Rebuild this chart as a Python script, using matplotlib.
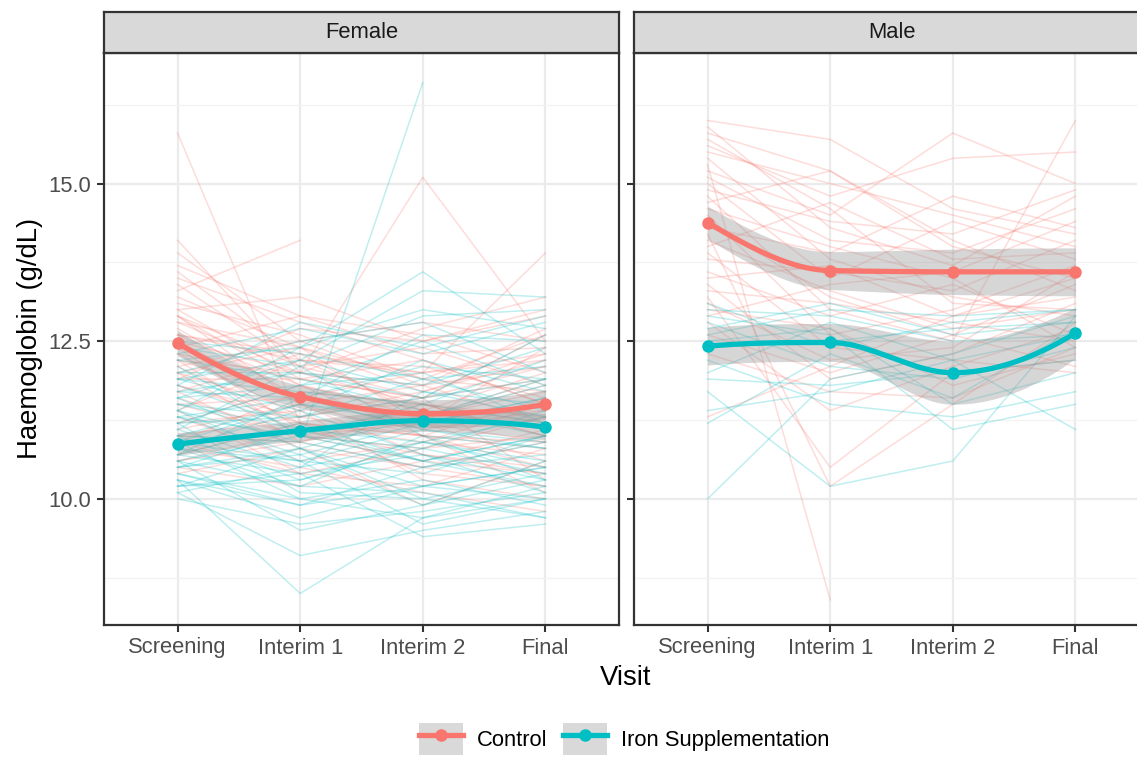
import numpy as np
import matplotlib
matplotlib.use("Agg")
import matplotlib.pyplot as plt
from matplotlib.lines import Line2D
from matplotlib.patches import Patch
from matplotlib.legend_handler import HandlerTuple

plt.rcParams['font.family'] = ['Liberation Sans', 'DejaVu Sans']

nan = np.nan
visits = ["Screening", "Interim 1", "Interim 2", "Final"]
panels = ["Female", "Male"]
groups = ["Control", "Iron Supplementation"]
colors = {"Control": "#F8766D", "Iron Supplementation": "#00BFC4"}

# individual subject trajectories [Screening, Interim 1, Interim 2, Final]
female_control = [
    [15.8, 11.2, 11.0, 10.8], [14.1, 12.0, 11.5, 11.2], [13.3, 14.1, nan, nan],
    [13.9, 12.5, 11.8, 12.1], [13.5, 12.8, 12.2, 11.5], [13.0, 13.2, 12.5, 13.0],
    [12.8, 12.0, 15.1, 12.5], [12.6, 12.3, 12.0, 13.9], [12.9, 11.8, 11.4, 12.0],
    [12.5, 11.5, 11.0, 10.5], [12.3, 11.9, 11.6, 11.9], [12.2, 11.0, 10.8, 11.3],
    [12.0, 12.4, 11.9, 12.6], [11.8, 11.3, 11.7, 12.2], [11.7, 10.8, 10.5, 10.2],
    [11.5, 11.6, 11.2, 10.9], [11.4, 12.2, 12.1, 11.6], [11.3, 10.6, 10.9, 11.5],
    [11.2, 11.4, 10.3, 10.0], [11.0, 10.9, 11.3, 11.8], [10.9, 11.7, 11.5, 11.0],
    [10.8, 10.5, 10.1, 9.8], [10.6, 11.1, 10.7, 10.4], [10.5, 10.2, 10.6, 11.1],
    [10.4, 10.8, 9.9, 10.6], [12.4, 12.9, 12.3, 12.4], [12.7, 11.6, 11.1, 11.4],
    [13.1, 12.6, 11.9, 11.7], [11.9, 12.7, 12.5, 12.9], [12.1, 11.2, 10.9, 10.7],
    [11.6, 11.0, 11.2, 12.4], [13.6, 12.2, 12.0, 12.2], [12.9, 12.1, 11.6, 10.3],
    [11.1, 11.5, 11.8, 11.2], [10.7, 11.2, 11.0, 10.1], [12.2, 12.0, 12.7, 13.2],
    [11.4, 10.4, 10.2, 10.8], [12.6, 11.8, 11.3, 11.9], [12.0, 11.4, 11.5, 11.0],
    [13.2, 12.4, 11.7, 12.3], [12.3, 11.3, 11.0, 11.6], [12.8, 12.4, 11.2, 10.6],
    [11.9, 11.9, 12.2, 11.5], [12.5, 12.0, 11.8, 12.7], [11.5, 11.0, 10.6, 10.4],
    [13.4, 12.1, 12.4, 11.8], [12.0, 10.9, 11.5, 11.3], [11.2, 11.8, 11.0, 10.9],
    [12.6, 12.2, 11.4, 11.1], [10.9, 10.4, 10.8, 11.0], [13.7, 12.9, 12.6, 12.0],
    [12.2, 11.6, 12.0, 12.3], [11.7, 12.3, 11.3, 11.7], [12.9, 11.5, 10.7, 10.5],
    [11.0, 11.3, 11.6, 12.1], [12.4, 11.1, 11.3, 11.4], [13.0, 11.9, 11.6, 12.6],
    [11.8, 11.2, 10.4, 10.2], [12.1, 12.5, 12.8, 12.5], [10.6, 10.9, 10.5, 10.9],
]
female_iron = [
    [10.0, 9.6, 9.8, 10.1], [10.3, 8.5, 9.7, 10.0], [10.1, 9.1, 9.5, 9.8],
    [10.2, 10.4, 9.4, 9.6], [10.4, 9.9, 10.2, 10.5], [10.5, 10.8, 10.0, 9.7],
    [10.6, 10.2, 11.0, 10.8], [10.7, 11.2, 10.6, 10.2], [10.8, 10.6, 10.4, 11.0],
    [10.9, 11.5, 11.3, 11.8], [11.0, 10.9, 16.6, nan], [11.1, 10.5, 11.7, 11.5],
    [11.2, 11.8, 12.0, 11.2], [11.3, 11.0, 10.8, 10.4], [11.4, 12.4, 13.6, 12.3],
    [11.5, 11.3, 11.6, 12.6], [11.6, 12.2, 13.3, 13.2], [11.7, 11.6, 11.1, 10.9],
    [11.8, 12.8, 12.4, 12.9], [11.9, 11.4, 12.2, 11.7], [12.0, 12.5, 12.8, 12.0],
    [12.2, 11.9, 11.4, 11.1], [12.4, 12.1, 12.9, 13.0], [12.5, 12.3, 11.9, 11.4],
    [10.3, 9.9, 10.5, 10.7], [10.6, 9.5, 9.9, 10.3], [10.9, 10.0, 10.3, 9.9],
    [11.0, 10.3, 10.9, 11.3], [11.3, 10.7, 9.9, 10.6], [11.5, 11.1, 11.4, 11.0],
    [11.7, 12.0, 11.8, 12.4], [10.5, 10.7, 11.2, 11.6], [10.8, 11.4, 10.7, 10.1],
    [11.2, 10.1, 10.0, 10.4], [11.9, 11.7, 11.5, 12.2], [12.1, 11.0, 10.6, 11.0],
    [10.2, 10.3, 10.8, 11.4], [10.7, 11.6, 12.1, 11.9], [11.4, 10.6, 9.6, 10.0],
    [12.3, 12.7, 12.3, 12.8], [10.1, 10.5, 10.9, 10.6], [10.4, 10.0, 9.7, 10.2],
    [10.6, 11.0, 11.5, 11.2], [10.8, 10.2, 10.1, 9.7], [11.0, 11.5, 11.2, 11.6],
    [11.2, 11.3, 11.9, 12.1], [11.4, 10.9, 10.5, 10.9], [11.6, 11.8, 12.5, 11.8],
    [11.8, 11.1, 10.9, 10.5], [12.0, 12.0, 11.6, 11.9], [10.3, 9.7, 10.2, 10.5],
    [10.5, 11.1, 10.6, 11.0], [10.9, 10.6, 11.1, 10.8], [11.1, 12.1, 11.0, 10.3],
    [11.3, 11.6, 12.6, 12.5], [11.6, 10.8, 10.2, 10.0], [11.9, 12.2, 11.7, 11.3],
    [12.2, 12.4, 13.0, 12.7], [10.2, 10.8, 11.3, 11.9], [10.7, 10.4, 10.7, 10.3],
]
male_control = [
    [16.0, 15.7, 14.6, 14.2], [15.8, 15.2, 14.0, 13.5], [15.9, 14.3, 13.7, 14.8],
    [15.6, 14.8, 15.4, 15.5], [15.5, 15.0, 14.5, 14.0], [15.4, 13.8, 13.2, 12.9],
    [15.3, 8.4, nan, nan], [15.2, 14.5, 15.8, 15.0], [15.1, 14.1, 13.9, 14.6],
    [15.0, 13.5, 14.4, 13.8], [14.8, 13.0, 12.5, 16.0], [14.7, 15.2, 14.1, 13.3],
    [14.6, 14.0, 13.5, 12.4], [14.5, 12.6, 13.0, 13.7], [14.3, 13.9, 14.8, 14.3],
    [14.2, 10.2, 11.5, 12.8], [14.1, 13.3, 12.7, 13.0], [14.0, 14.7, 13.8, 13.9],
    [13.9, 12.4, 12.2, 12.0], [13.8, 13.6, 13.3, 14.1], [13.6, 12.9, 13.4, 12.6],
    [13.5, 13.7, 12.9, 13.2], [13.4, 11.9, 12.3, 13.1], [13.3, 13.1, 12.8, 12.5],
    [13.2, 10.5, 12.0, 12.2], [13.1, 12.2, 12.4, 13.6], [13.0, 12.7, 11.8, 12.3],
    [12.9, 13.4, 13.6, 14.4], [12.8, 11.4, 12.1, 12.7], [12.6, 12.0, 12.6, 13.4],
    [14.9, 14.4, 14.2, 14.9], [15.7, 14.6, 13.1, 13.0], [14.4, 13.2, 12.6, 12.1],
    [11.3, 12.1, 12.9, 13.5], [12.3, 11.7, 11.6, 12.4],
]
male_iron = [
    [10.0, 11.9, 12.3, 12.9], [11.2, 12.3, 11.6, 12.7], [11.7, 10.2, 10.6, 12.9],
    [12.0, 12.8, 12.2, 11.1], [12.2, 11.5, 11.3, 11.7], [12.4, 12.5, 12.7, 12.8],
    [12.6, 13.0, 12.9, 13.0], [12.8, 12.1, 11.9, 12.4], [12.9, 12.6, 11.1, 11.5],
    [13.0, 12.9, 12.5, 12.6], [11.9, 11.8, 12.0, 12.2], [12.5, 12.7, 11.5, 12.0],
    [13.1, 12.4, 12.8, 13.0], [11.4, 11.7, 12.2, 12.6], [12.7, 13.1, 12.6, 12.8],
]

# group means at each visit and half-width of the confidence band
female_control_mean = [12.47, 11.62, 11.35, 11.50]
female_iron_mean = [10.87, 11.08, 11.24, 11.14]
male_control_mean = [14.38, 13.62, 13.60, 13.60]
male_iron_mean = [12.42, 12.48, 12.00, 12.63]
female_control_se = [0.20, 0.18, 0.22, 0.23]
female_iron_se = [0.18, 0.16, 0.17, 0.21]
male_control_se = [0.26, 0.30, 0.36, 0.38]
male_iron_se = [0.30, 0.30, 0.50, 0.40]

data = {
    "Female": {"Control": (female_control, female_control_mean, female_control_se),
               "Iron Supplementation": (female_iron, female_iron_mean, female_iron_se)},
    "Male": {"Control": (male_control, male_control_mean, male_control_se),
             "Iron Supplementation": (male_iron, male_iron_mean, male_iron_se)},
}


def pchip(xk, yk, xq):
    # shape-preserving cubic through the visit summaries (smoother stand-in)
    xk = np.asarray(xk, float)
    yk = np.asarray(yk, float)
    h = np.diff(xk)
    d = np.diff(yk) / h
    n = len(xk)
    m = np.zeros(n)
    for k in range(1, n - 1):
        if d[k - 1] * d[k] > 0:
            w1 = 2 * h[k] + h[k - 1]
            w2 = h[k] + 2 * h[k - 1]
            m[k] = (w1 + w2) / (w1 / d[k - 1] + w2 / d[k])
    for k, (a, b, ha, hb) in ((0, (d[0], d[1], h[0], h[1])),
                              (n - 1, (d[-1], d[-2], h[-1], h[-2]))):
        e = ((2 * ha + hb) * a - ha * b) / (ha + hb)
        if np.sign(e) != np.sign(a):
            e = 0.0
        elif np.sign(a) != np.sign(b) and abs(e) > 3 * abs(a):
            e = 3 * a
        m[k] = e
    idx = np.clip(np.searchsorted(xk, xq) - 1, 0, n - 2)
    t = (xq - xk[idx]) / h[idx]
    h00 = 2 * t**3 - 3 * t**2 + 1
    h10 = t**3 - 2 * t**2 + t
    h01 = -2 * t**3 + 3 * t**2
    h11 = t**3 - t**2
    return (h00 * yk[idx] + h10 * h[idx] * m[idx]
            + h01 * yk[idx + 1] + h11 * h[idx] * m[idx + 1])


W, H = 1137, 758
fig = plt.figure(figsize=(W / 100, H / 100), dpi=100)

x = np.arange(1, 5)
xs = np.linspace(1, 4, 200)
panel_left = [104, 634]
pw, top, bot = 515, 53, 625

for pname, left in zip(panels, panel_left):
    ax = fig.add_axes([left / W, 1 - bot / H, pw / W, (bot - top) / H])
    ax.set_xlim(0.4, 4.6)
    ax.set_ylim(8.0, 17.07)
    ax.set_yticks([10, 12.5, 15])
    ax.set_yticks([8.75, 11.25, 13.75, 16.25], minor=True)
    ax.set_xticks(x)
    ax.set_xticklabels(visits)
    ax.set_yticklabels(["10.0", "12.5", "15.0"] if pname == "Female" else [])
    ax.grid(True, which="major", color="#EBEBEB", lw=1.6, zorder=0)
    ax.grid(True, which="minor", axis="y", color="#F2F2F2", lw=0.9, zorder=0)
    ax.tick_params(which="major", length=5, width=1.5, color="#333333",
                   labelsize=15.8, labelcolor="#4D4D4D", pad=4)
    ax.tick_params(which="minor", length=0)
    for s in ax.spines.values():
        s.set_color("#333333")
        s.set_linewidth(1.6)
    ax.set_axisbelow(True)

    for g in groups:
        subj, mean, se = data[pname][g]
        for row in subj:
            ax.plot(x, row, color=colors[g], alpha=0.25, lw=1.1, zorder=2)
    for g in groups:
        subj, mean, se = data[pname][g]
        m = pchip(x, mean, xs)
        h = pchip(x, se, xs)
        ax.fill_between(xs, m - h, m + h, color="#999999", alpha=0.4, lw=0, zorder=3)
    for g in groups:
        subj, mean, se = data[pname][g]
        m = pchip(x, mean, xs)
        ax.plot(xs, m, color=colors[g], lw=3.8, zorder=4, solid_capstyle="butt")
        ax.plot(x, mean, "o", color=colors[g], ms=8, zorder=5)

    # facet strip
    sax = fig.add_axes([left / W, 1 - top / H, pw / W, 41 / H])
    sax.set_facecolor("#D9D9D9")
    sax.set_xticks([])
    sax.set_yticks([])
    for s in sax.spines.values():
        s.set_color("#333333")
        s.set_linewidth(1.6)
    sax.text(0.5, 0.5, pname, ha="center", va="center", fontsize=15.8,
             color="#1A1A1A", transform=sax.transAxes)

fig.text(30 / W, 1 - 338 / H, "Haemoglobin (g/dL)", rotation=90, ha="center",
         va="center", fontsize=19.8)
fig.text(626 / W, 1 - 678 / H, "Visit", ha="center", va="center", fontsize=19.8)

handles = []
for g in groups:
    bg = Patch(facecolor="#D9D9D9", edgecolor="none")
    ln = Line2D([], [], color=colors[g], lw=3.8, marker="o", ms=8)
    handles.append((bg, ln))
fig.legend(handles, groups, loc="center", bbox_to_anchor=(624 / W, 1 - 739 / H),
           ncol=2, frameon=False, fontsize=15.8, handlelength=2.0, handleheight=1.8,
           handletextpad=0.65, columnspacing=0.7, borderpad=0, borderaxespad=0,
           handler_map={tuple: HandlerTuple(ndivide=1, pad=0)})

fig.savefig("out.png", dpi=100)
